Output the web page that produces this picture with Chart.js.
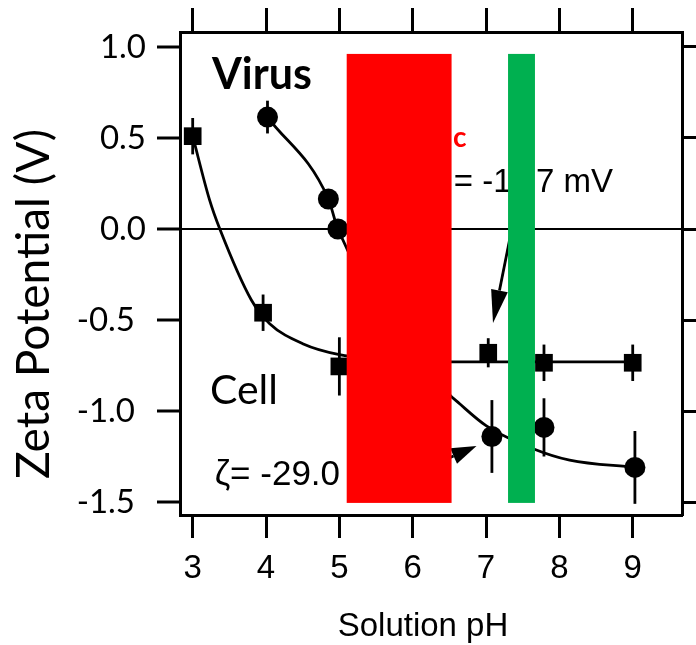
<!DOCTYPE html>
<html>
<head>
<meta charset="utf-8">
<script src="https://cdn.jsdelivr.net/npm/chart.js@4.4.1/dist/chart.umd.min.js"></script>
<style>
  html, body { margin: 0; padding: 0; background: #fff; }
  #wrap { width: 696px; height: 645px; }
</style>
</head>
<body>
<div id="wrap"><canvas id="zeta" width="696" height="645"></canvas></div>
<script>
// Zeta potential vs solution pH: cell (squares) and virus (circles)
const phTicks = [3, 4, 5, 6, 7, 8, 9];
const zetaTicks = [1.0, 0.5, 0.0, -0.5, -1.0, -1.5];

const cellPH = [3.0, 3.96, 5.0, 7.03, 7.79, 9.0];
const cellZeta = [0.51, -0.46, -0.755, -0.68, -0.735, -0.735];
const cellErr = [0.1, 0.1, 0.16, 0.08, 0.1, 0.1];

const virusPH = [4.02, 4.85, 4.98, 7.08, 7.79, 9.03];
const virusZeta = [0.615, 0.165, 0.0, -1.14, -1.09, -1.31];
const virusErr = [0.09, 0.04, 0.04, 0.2, 0.16, 0.2];

// fitted curves
const cellFitPH = [3.0, 3.23, 3.37, 3.8, 4.05, 4.5, 5.0, 5.5, 6.5, 9.07];
const cellFitZeta = [0.51, 0.16, 0.0, -0.39, -0.52, -0.63, -0.69, -0.71, -0.73, -0.73];
const virusFitPH = [4.02, 4.85, 4.98, 6.48, 6.64, 7.0, 7.66, 8.14, 9.03];
const virusFitZeta = [0.615, 0.165, 0.0, -0.9, -0.96, -1.08, -1.21, -1.27, -1.31];

// blocks pasted over the figure
const redBandPH = [5.10, 6.53];
const greenBandPH = [7.30, 7.667];
const bandZeta = [-1.505, 0.962];

const toPoints = (xs, ys) => xs.map((x, i) => ({ x: x, y: ys[i] }));

const notes = [
  { text: 'Virus', ph: 3.263, zeta: 0.769, font: 'bold 43px Lato', color: '#000' },
  { text: 'Cell', ph: 3.236, zeta: -0.962, font: '41px Lato', color: '#000' },
  { text: 'c', ph: 6.55, zeta: 0.45, font: 'bold 28px Lato', color: '#ff0000' },
  { text: '= -1', ph: 6.56, zeta: 0.203, font: '33px "Liberation Sans"', color: '#000' },
  { text: '7 mV', ph: 7.68, zeta: 0.203, font: '33px "Liberation Sans"', color: '#000' },
  { text: 'ζ= -29.0', ph: 3.30, zeta: -1.407, font: '35px "Liberation Sans"', color: '#000' }
];

const arrows = [
  { from: [7.44, 0.18], to: [7.095, -0.516], head: 33, half: 8.5 },
  { from: [6.2, -1.31], to: [6.87, -1.192], head: 25, half: 8.5 }
];

function drawArrow(ctx, x1, y1, x2, y2, head, half) {
  const a = Math.atan2(y2 - y1, x2 - x1);
  const bx = x2 - head * Math.cos(a), by = y2 - head * Math.sin(a);
  ctx.beginPath();
  ctx.moveTo(x1, y1);
  ctx.lineTo(bx, by);
  ctx.stroke();
  ctx.beginPath();
  ctx.moveTo(x2, y2);
  ctx.lineTo(bx + half * Math.sin(a), by - half * Math.cos(a));
  ctx.lineTo(bx - half * Math.sin(a), by + half * Math.cos(a));
  ctx.closePath();
  ctx.fill();
}

const overlay = {
  id: 'overlay',
  beforeDatasetsDraw(chart) {
    const { ctx, scales: { x, y } } = chart;
    ctx.save();
    ctx.strokeStyle = '#000';
    ctx.lineWidth = 2.8;
    const bars = (xs, ys, es) => xs.forEach((v, i) => {
      const px = x.getPixelForValue(v);
      ctx.beginPath();
      ctx.moveTo(px, y.getPixelForValue(ys[i] + es[i]));
      ctx.lineTo(px, y.getPixelForValue(ys[i] - es[i]));
      ctx.stroke();
    });
    bars(cellPH, cellZeta, cellErr);
    bars(virusPH, virusZeta, virusErr);
    ctx.restore();
  },
  afterDatasetsDraw(chart) {
    const { ctx, scales: { x, y } } = chart;
    ctx.save();
    ctx.strokeStyle = '#000';
    ctx.fillStyle = '#000';
    ctx.lineWidth = 2.8;
    arrows.forEach(a => drawArrow(ctx,
      x.getPixelForValue(a.from[0]), y.getPixelForValue(a.from[1]),
      x.getPixelForValue(a.to[0]), y.getPixelForValue(a.to[1]), a.head, a.half));

    ctx.textBaseline = 'alphabetic';
    ctx.textAlign = 'left';
    notes.forEach(n => {
      ctx.font = n.font;
      ctx.fillStyle = n.color;
      ctx.fillText(n.text, x.getPixelForValue(n.ph), y.getPixelForValue(n.zeta));
    });

    const band = (r, color) => {
      const x0 = x.getPixelForValue(r[0]), x1 = x.getPixelForValue(r[1]);
      const y0 = y.getPixelForValue(bandZeta[1]), y1 = y.getPixelForValue(bandZeta[0]);
      ctx.fillStyle = color;
      ctx.fillRect(x0, y0, x1 - x0, y1 - y0);
    };
    band(redBandPH, '#ff0000');
    band(greenBandPH, '#00b050');

    // axis titles
    ctx.fillStyle = '#000';
    ctx.font = '33px "Liberation Sans"';
    ctx.textAlign = 'center';
    ctx.fillText('Solution pH', 423, 636);
    ctx.translate(34, 304);
    ctx.rotate(-Math.PI / 2);
    ctx.font = '46px Lato';
    ctx.textBaseline = 'middle';
    ctx.fillText('Zeta Potential (V)', 0, 0);
    ctx.restore();
  }
};

const pinTicks = list => scale => { scale.ticks = list.map(v => ({ value: v })); };
const frame = { display: true, color: '#000', width: 3 };

new Chart(document.getElementById('zeta'), {
  type: 'scatter',
  data: {
    datasets: [
      {
        data: toPoints(cellPH, cellZeta),
        xAxisID: 'x', yAxisID: 'y',
        pointStyle: 'rect', pointRadius: 12.5,
        backgroundColor: '#000', borderColor: '#000', borderWidth: 0
      },
      {
        data: toPoints(virusPH, virusZeta),
        xAxisID: 'x', yAxisID: 'y',
        pointStyle: 'circle', pointRadius: 10.5,
        backgroundColor: '#000', borderColor: '#000', borderWidth: 0
      },
      {
        data: toPoints(cellFitPH, cellFitZeta),
        xAxisID: 'x', yAxisID: 'y',
        showLine: true, pointRadius: 0, borderColor: '#000', borderWidth: 2.8,
        cubicInterpolationMode: 'monotone'
      },
      {
        data: toPoints(virusFitPH, virusFitZeta),
        xAxisID: 'x', yAxisID: 'y',
        showLine: true, pointRadius: 0, borderColor: '#000', borderWidth: 2.8,
        cubicInterpolationMode: 'monotone'
      }
    ]
  },
  options: {
    responsive: false,
    animation: false,
    devicePixelRatio: 1,
    layout: { padding: 0 },
    plugins: { legend: { display: false }, tooltip: { enabled: false } },
    scales: {
      x: {
        type: 'linear', position: 'bottom', min: 2.827, max: 9.672,
        afterBuildTicks: pinTicks(phTicks),
        afterFit: s => { s.height = 130; },
        border: frame,
        grid: { drawOnChartArea: false, tickLength: 23, tickWidth: 3, tickColor: '#000' },
        ticks: { color: '#000', padding: 11, maxRotation: 0, font: { family: 'Liberation Sans', size: 33 } }
      },
      x2: {
        type: 'linear', axis: 'x', position: 'top', min: 2.827, max: 9.672,
        afterBuildTicks: pinTicks(phTicks),
        afterFit: s => { s.height = 32; },
        border: frame,
        grid: { drawOnChartArea: false, tickLength: 24, tickWidth: 3, tickColor: '#000' },
        ticks: { display: false }
      },
      y: {
        type: 'linear', position: 'left', min: -1.5714, max: 1.0824,
        afterBuildTicks: pinTicks(zetaTicks),
        afterFit: s => { s.width = 180; },
        border: frame,
        grid: {
          color: c => (c.tick && c.tick.value === 0 ? '#000' : 'rgba(0,0,0,0)'),
          lineWidth: 2,
          tickLength: 23, tickWidth: 3, tickColor: '#000'
        },
        ticks: {
          color: '#000', padding: 11, font: { family: 'Lato', size: 33 },
          callback: v => (v < 0 ? v.toFixed(1) + '\u2004' : v.toFixed(1))
        }
      },
      y2: {
        type: 'linear', axis: 'y', position: 'right', min: -1.5714, max: 1.0824,
        afterBuildTicks: pinTicks(zetaTicks),
        afterFit: s => { s.width = 14; },
        border: frame,
        grid: { drawOnChartArea: false, tickLength: 23, tickWidth: 3, tickColor: '#000' },
        ticks: { display: false }
      }
    }
  },
  plugins: [overlay]
});
</script>
</body>
</html>
